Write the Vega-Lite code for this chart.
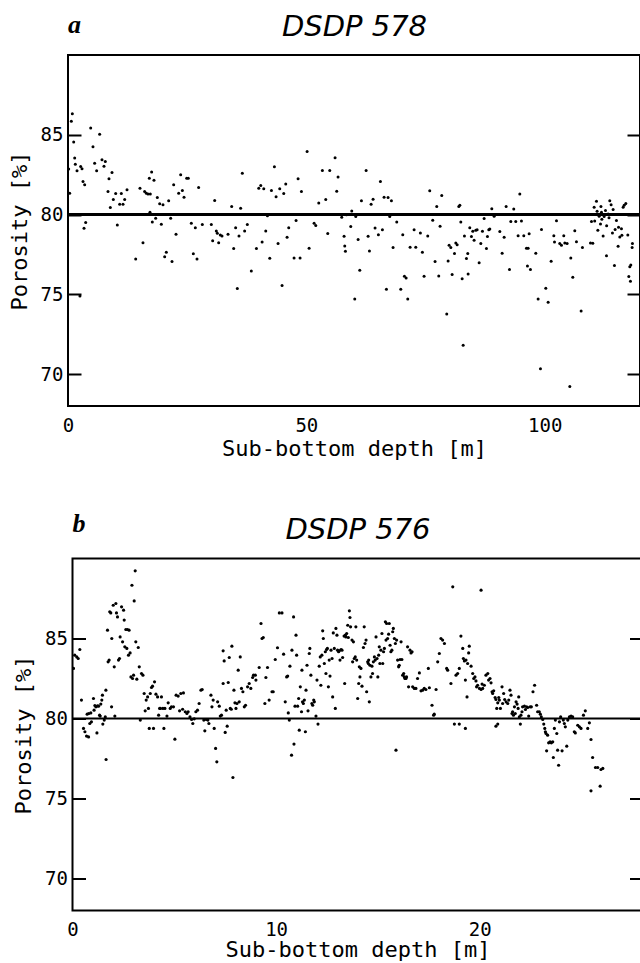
{
  "$schema": "https://vega.github.io/schema/vega-lite/v6.json",
  "background": "white",
  "padding": {"left": 7, "top": 11, "right": 0, "bottom": 0},
  "center": true,
  "spacing": 49.5,
  "config": {
    "view": {"stroke": "black", "strokeWidth": 2},
    "axis": {
      "grid": false, "domain": false, "zindex": 1, "tickColor": "black", "tickWidth": 2,
      "labelColor": "black", "labelFont": "DejaVu Sans Mono", "labelFontSize": 19,
      "titleColor": "black", "titleFont": "DejaVu Sans Mono", "titleFontSize": 22, "titleFontWeight": "normal",
      "labelFlush": false, "labelOverlap": false
    },
    "title": {"font": "Liberation Serif", "fontStyle": "italic", "fontWeight": "bold", "fontSize": 26, "color": "black", "anchor": "start", "frame": "group"}
  },
  "datasets": {
    "site578": [
      {"depth":0.91,"porosity":86.32},{"depth":0.70,"porosity":85.84},{"depth":1.19,"porosity":84.54},{"depth":0.14,"porosity":82.85},{"depth":1.40,"porosity":83.54},{"depth":1.54,"porosity":83.16},{"depth":1.89,"porosity":82.74},{"depth":0.35,"porosity":81.34},{"depth":2.66,"porosity":83.01},{"depth":2.94,"porosity":82.87},{"depth":3.15,"porosity":82.07},{"depth":3.50,"porosity":81.86},{"depth":3.36,"porosity":79.14},{"depth":3.71,"porosity":79.50},{"depth":2.5,"porosity":74.9},
      {"depth":4.76,"porosity":85.42},{"depth":5.24,"porosity":84.25},{"depth":5.59,"porosity":83.22},{"depth":6.01,"porosity":82.74},{"depth":6.64,"porosity":85.04},{"depth":7.13,"porosity":83.43},{"depth":7.83,"porosity":83.33},{"depth":7.55,"porosity":83.03},{"depth":8.60,"porosity":82.24},{"depth":8.39,"porosity":81.44},{"depth":9.23,"porosity":82.64},{"depth":8.88,"porosity":80.44},{"depth":9.51,"porosity":80.94},{"depth":10.0,"porosity":81.32},{"depth":10.84,"porosity":80.65},{"depth":11.19,"porosity":81.32},{"depth":11.54,"porosity":80.65},{"depth":11.89,"porosity":80.94},{"depth":12.38,"porosity":81.55},{"depth":10.35,"porosity":79.35},
      {"depth":14.20,"porosity":77.22},{"depth":15.10,"porosity":81.65},{"depth":15.73,"porosity":78.24},{"depth":16.08,"porosity":81.44},{"depth":16.43,"porosity":81.34},{"depth":16.78,"porosity":81.28},{"depth":17.06,"porosity":82.28},{"depth":17.55,"porosity":82.66},{"depth":17.27,"porosity":81.28},{"depth":18.04,"porosity":82.15},{"depth":17.20,"porosity":80.15},{"depth":17.69,"porosity":79.54},{"depth":18.39,"porosity":79.77},{"depth":18.74,"porosity":81.07},{"depth":19.23,"porosity":80.67},{"depth":19.58,"porosity":79.39},{"depth":19.93,"porosity":80.61},{"depth":20.28,"porosity":77.36},{"depth":20.63,"porosity":77.64},{"depth":21.12,"porosity":80.86},{"depth":21.54,"porosity":79.77},{"depth":21.82,"porosity":77.05},{"depth":22.17,"porosity":81.86},{"depth":22.66,"porosity":78.77},{"depth":23.22,"porosity":81.34},{"depth":23.64,"porosity":82.49},{"depth":23.99,"porosity":81.51},{"depth":24.34,"porosity":81.09},{"depth":24.90,"porosity":82.28},{"depth":25.24,"porosity":82.28},{"depth":25.87,"porosity":79.46},{"depth":26.29,"porosity":77.55},{"depth":26.71,"porosity":79.18},{"depth":27.06,"porosity":77.22},{"depth":27.41,"porosity":81.69},{"depth":28.18,"porosity":79.37},
      {"depth":30.07,"porosity":79.37},{"depth":30.35,"porosity":78.35},{"depth":30.77,"porosity":80.88},{"depth":31.12,"porosity":78.97},{"depth":31.33,"porosity":78.83},{"depth":31.61,"porosity":78.24},{"depth":31.96,"porosity":78.72},{"depth":32.31,"porosity":78.66},{"depth":33.57,"porosity":78.77},{"depth":34.34,"porosity":80.50},{"depth":34.76,"porosity":77.87},{"depth":35.17,"porosity":79.18},{"depth":35.52,"porosity":75.36},{"depth":35.87,"porosity":78.66},{"depth":36.22,"porosity":80.40},{"depth":36.57,"porosity":82.59},{"depth":37.06,"porosity":78.97},{"depth":37.62,"porosity":79.37},{"depth":38.46,"porosity":76.46},
      {"depth":39.53,"porosity":77.87},{"depth":40.02,"porosity":81.65},{"depth":40.44,"porosity":81.82},{"depth":41.07,"porosity":81.61},{"depth":40.72,"porosity":78.28},{"depth":41.49,"porosity":78.97},{"depth":41.84,"porosity":79.92},{"depth":42.33,"porosity":77.26},{"depth":42.68,"porosity":81.51},{"depth":43.30,"porosity":82.99},{"depth":43.65,"porosity":81.11},{"depth":44.07,"porosity":78.18},{"depth":44.42,"porosity":81.61},{"depth":44.91,"porosity":75.56},{"depth":45.26,"porosity":81.32},{"depth":45.68,"porosity":81.92},{"depth":45.96,"porosity":78.58},{"depth":46.31,"porosity":79.18},{"depth":47.43,"porosity":77.28},{"depth":47.85,"porosity":79.62},{"depth":48.27,"porosity":82.24},{"depth":48.69,"porosity":77.28},{"depth":48.97,"porosity":81.44},{"depth":50.16,"porosity":83.95},{"depth":50.58,"porosity":77.89},{"depth":51.63,"porosity":79.46},{"depth":51.98,"porosity":79.31},{"depth":52.61,"porosity":80.73},{"depth":53.37,"porosity":82.76},{"depth":54.07,"porosity":80.94},{"depth":54.49,"porosity":78.81},{"depth":54.91,"porosity":82.76},{"depth":56.03,"porosity":83.56},{"depth":56.38,"porosity":81.46},{"depth":56.66,"porosity":82.36},{"depth":57.43,"porosity":79.83},{"depth":57.92,"porosity":78.64},{"depth":58.06,"porosity":78.03},{"depth":58.20,"porosity":77.70},{"depth":58.41,"porosity":79.98},{"depth":59.32,"porosity":79.25},{"depth":59.53,"porosity":80.23},{"depth":60.16,"porosity":74.71},{"depth":60.37,"porosity":79.87},{"depth":60.86,"porosity":78.43},{"depth":61.21,"porosity":76.51},{"depth":61.56,"porosity":80.86},{"depth":62.54,"porosity":82.76},{"depth":62.96,"porosity":78.64},{"depth":63.24,"porosity":77.72},{"depth":63.59,"porosity":80.65},{"depth":64.00,"porosity":80.96},{"depth":64.42,"porosity":79.16},{"depth":65.12,"porosity":78.74},{"depth":65.54,"porosity":82.07},{"depth":65.96,"porosity":79.04},{"depth":66.31,"porosity":81.09},{"depth":66.80,"porosity":75.31},{"depth":67.15,"porosity":81.07},{"depth":67.50,"porosity":79.87},{"depth":67.85,"porosity":80.86},{"depth":68.20,"porosity":77.93},{"depth":68.97,"porosity":79.54},{"depth":69.81,"porosity":75.31},{"depth":70.23,"porosity":78.74},{"depth":70.58,"porosity":76.13},{"depth":70.93,"porosity":76.03},{"depth":71.28,"porosity":74.71},{"depth":71.77,"porosity":77.95},{"depth":72.61,"porosity":79.04},{"depth":72.96,"porosity":77.95},{"depth":73.93,"porosity":78.85},{"depth":74.35,"porosity":77.64},{"depth":74.70,"porosity":76.13},{"depth":75.47,"porosity":78.66},{"depth":75.89,"porosity":81.49},{"depth":76.52,"porosity":79.64},{"depth":77.01,"porosity":77.05},{"depth":77.36,"porosity":80.50},{"depth":77.78,"porosity":76.15},{"depth":78.06,"porosity":79.27},{"depth":78.41,"porosity":81.19},{"depth":79.46,"porosity":73.77},{"depth":79.74,"porosity":77.09},{"depth":79.95,"porosity":78.08},
      {"depth":80.31,"porosity":77.93},{"depth":80.59,"porosity":76.25},{"depth":81.08,"porosity":77.56},{"depth":81.36,"porosity":78.22},{"depth":81.64,"porosity":78.10},{"depth":81.99,"porosity":80.50},{"depth":82.20,"porosity":80.58},{"depth":82.41,"porosity":79.54},{"depth":82.69,"porosity":75.98},{"depth":82.90,"porosity":71.80},{"depth":83.17,"porosity":78.65},{"depth":83.59,"porosity":77.25},{"depth":83.87,"porosity":77.56},{"depth":83.94,"porosity":76.27},{"depth":84.29,"porosity":79.17},{"depth":84.64,"porosity":78.63},{"depth":84.92,"porosity":78.96},{"depth":85.20,"porosity":78.39},{"depth":85.55,"porosity":79.01},{"depth":85.83,"porosity":79.05},{"depth":86.25,"porosity":76.98},{"depth":86.60,"porosity":78.18},{"depth":86.95,"porosity":78.96},{"depth":87.30,"porosity":79.75},{"depth":87.79,"porosity":77.87},{"depth":88.00,"porosity":78.63},{"depth":88.28,"porosity":79.05},{"depth":88.49,"porosity":79.09},{"depth":88.91,"porosity":80.37},{"depth":89.40,"porosity":79.90},{"depth":90.59,"porosity":78.94},{"depth":91.08,"porosity":77.58},{"depth":91.50,"porosity":78.57},{"depth":91.92,"porosity":80.50},{"depth":92.34,"porosity":80.00},{"depth":92.62,"porosity":76.56},{"depth":92.90,"porosity":79.57},{"depth":93.52,"porosity":80.35},{"depth":93.94,"porosity":79.57},{"depth":94.43,"porosity":78.67},{"depth":94.78,"porosity":81.28},{"depth":95.13,"porosity":79.59},{"depth":95.62,"porosity":78.67},{"depth":96.18,"porosity":77.89},{"depth":96.53,"porosity":77.89},{"depth":96.74,"porosity":78.80},{"depth":96.39,"porosity":76.77},{"depth":97.02,"porosity":76.56},{"depth":98.14,"porosity":77.58},{"depth":98.63,"porosity":74.70},{"depth":99.12,"porosity":70.33},{"depth":99.33,"porosity":79.07},{"depth":100.24,"porosity":75.38},{"depth":100.73,"porosity":74.51},{"depth":101.36,"porosity":77.08},{"depth":101.92,"porosity":78.67},{"depth":102.06,"porosity":78.28},{"depth":102.48,"porosity":79.61},{"depth":103.17,"porosity":78.18},{"depth":103.52,"porosity":78.07},{"depth":104.01,"porosity":78.67},{"depth":104.22,"porosity":78.22},{"depth":104.71,"porosity":78.18},{"depth":105.48,"porosity":77.27},{"depth":105.90,"porosity":76.07},{"depth":106.32,"porosity":78.99},{"depth":106.67,"porosity":78.30},{"depth":107.65,"porosity":73.95},{"depth":107.93,"porosity":77.93},{"depth":105.27,"porosity":69.23},
      {"depth":109.61,"porosity":78.22},{"depth":110.10,"porosity":78.20},{"depth":109.82,"porosity":79.57},{"depth":110.38,"porosity":80.46},{"depth":110.87,"porosity":80.83},{"depth":111.15,"porosity":79.01},{"depth":111.43,"porosity":79.90},{"depth":111.71,"porosity":79.40},{"depth":111.92,"porosity":80.14},{"depth":112.13,"porosity":80.00},{"depth":112.27,"porosity":78.65},{"depth":112.48,"porosity":79.88},{"depth":112.76,"porosity":80.25},{"depth":112.97,"porosity":77.41},{"depth":113.31,"porosity":80.04},{"depth":113.66,"porosity":80.87},{"depth":113.94,"porosity":80.62},{"depth":114.22,"porosity":78.84},{"depth":114.36,"porosity":80.31},{"depth":114.64,"porosity":76.81},{"depth":114.78,"porosity":79.07},{"depth":115.06,"porosity":79.63},{"depth":115.41,"porosity":78.01},{"depth":115.76,"porosity":78.59},{"depth":116.11,"porosity":79.11},{"depth":116.46,"porosity":80.46},{"depth":116.67,"porosity":80.58},{"depth":117.02,"porosity":80.70},{"depth":117.44,"porosity":78.72},{"depth":117.86,"porosity":76.73},{"depth":118.07,"porosity":76.83},{"depth":118.35,"porosity":77.93},{"depth":118.42,"porosity":78.18},{"depth":117.65,"porosity":76.11},{"depth":118.00,"porosity":75.82},
      {"depth":111.0,"porosity":80.2},{"depth":112.0,"porosity":79.7},{"depth":113.0,"porosity":79.3},{"depth":115.5,"porosity":79.2},{"depth":116.2,"porosity":78.7},{"depth":110.5,"porosity":79.6},{"depth":111.8,"porosity":80.5},{"depth":113.5,"porosity":79.8}
    ],
    "site576": [
      {"depth":0.05,"porosity":83.13},{"depth":0.11,"porosity":83.96},{"depth":0.21,"porosity":83.85},{"depth":0.28,"porosity":83.75},{"depth":0.36,"porosity":84.31},{"depth":0.44,"porosity":81.15},{"depth":0.54,"porosity":79.38},{"depth":0.61,"porosity":79.17},{"depth":0.69,"porosity":78.90},{"depth":0.79,"porosity":78.85},{"depth":0.72,"porosity":80.27},{"depth":0.80,"porosity":80.31},{"depth":0.90,"porosity":80.35},{"depth":0.85,"porosity":79.69},{"depth":0.93,"porosity":79.79},{"depth":1.03,"porosity":81.25},{"depth":1.06,"porosity":80.52},{"depth":1.10,"porosity":80.81},{"depth":1.15,"porosity":80.73},{"depth":1.23,"porosity":80.79},{"depth":1.28,"porosity":80.77},{"depth":1.20,"porosity":79.10},{"depth":1.33,"porosity":80.21},{"depth":1.39,"porosity":80.90},{"depth":1.36,"porosity":80.15},{"depth":1.44,"porosity":81.15},{"depth":1.47,"porosity":81.46},{"depth":1.49,"porosity":79.65},{"depth":1.56,"porosity":79.90},{"depth":1.61,"porosity":80.10},{"depth":1.64,"porosity":81.77},{"depth":1.65,"porosity":77.44},
      {"depth":1.72,"porosity":85.52},{"depth":1.75,"porosity":83.54},{"depth":1.80,"porosity":83.65},{"depth":1.83,"porosity":86.67},{"depth":1.88,"porosity":86.60},{"depth":1.92,"porosity":80.73},{"depth":1.93,"porosity":85.00},{"depth":2.00,"porosity":87.08},{"depth":2.05,"porosity":83.23},{"depth":2.08,"porosity":80.15},{"depth":2.13,"porosity":87.19},{"depth":2.16,"porosity":86.60},{"depth":2.21,"porosity":86.35},{"depth":2.26,"porosity":83.65},{"depth":2.31,"porosity":83.75},{"depth":2.34,"porosity":85.10},{"depth":2.41,"porosity":86.98},{"depth":2.46,"porosity":84.79},{"depth":2.51,"porosity":86.77},{"depth":2.54,"porosity":86.15},{"depth":2.57,"porosity":84.48},{"depth":2.62,"porosity":85.56},{"depth":2.67,"porosity":84.38},{"depth":2.70,"porosity":85.56},{"depth":2.75,"porosity":83.96},{"depth":2.78,"porosity":85.52},{"depth":2.83,"porosity":84.10},{"depth":2.87,"porosity":82.60},{"depth":2.92,"porosity":88.33},{"depth":2.95,"porosity":82.50},{"depth":3.00,"porosity":82.71},{"depth":3.03,"porosity":87.35},{"depth":3.08,"porosity":89.23},{"depth":3.11,"porosity":84.79},{"depth":3.16,"porosity":82.46},{"depth":3.23,"porosity":84.44},{"depth":3.28,"porosity":83.23},{"depth":3.33,"porosity":79.90},{"depth":3.39,"porosity":82.81},{"depth":3.46,"porosity":82.71},{"depth":3.52,"porosity":81.56},{"depth":3.57,"porosity":80.48},{"depth":3.62,"porosity":81.15},{"depth":3.69,"porosity":81.35},{"depth":3.73,"porosity":80.63},{"depth":3.77,"porosity":79.38},{"depth":3.82,"porosity":81.56},{"depth":3.88,"porosity":81.94},{"depth":3.93,"porosity":82.02},{"depth":3.98,"porosity":79.38},
      {"depth":4.03,"porosity":82.29},{"depth":4.10,"porosity":81.52},{"depth":4.18,"porosity":81.35},{"depth":4.23,"porosity":80.21},{"depth":4.28,"porosity":80.63},{"depth":4.32,"porosity":80.63},{"depth":4.37,"porosity":81.35},{"depth":4.44,"porosity":80.63},{"depth":4.49,"porosity":79.38},{"depth":4.54,"porosity":80.63},{"depth":4.64,"porosity":80.15},{"depth":4.70,"porosity":80.98},{"depth":4.80,"porosity":80.63},{"depth":4.86,"porosity":80.73},{"depth":4.96,"porosity":80.73},{"depth":5.03,"porosity":78.71},{"depth":5.09,"porosity":81.46},{"depth":5.19,"porosity":81.40},{"depth":5.26,"porosity":80.48},{"depth":5.32,"porosity":81.56},{"depth":5.41,"porosity":80.58},{"depth":5.45,"porosity":81.60},{"depth":5.54,"porosity":80.42},{"depth":5.62,"porosity":80.31},{"depth":5.68,"porosity":80.42},{"depth":5.77,"porosity":80.10},{"depth":5.85,"porosity":79.94},{"depth":5.91,"porosity":79.69},{"depth":5.98,"porosity":79.98},{"depth":6.06,"porosity":80.42},{"depth":6.14,"porosity":80.52},{"depth":6.22,"porosity":80.94},{"depth":6.31,"porosity":81.77},{"depth":6.37,"porosity":81.81},{"depth":6.45,"porosity":79.90},{"depth":6.50,"porosity":79.23},{"depth":6.57,"porosity":79.94},{"depth":6.65,"porosity":79.90},{"depth":6.70,"porosity":79.69},{"depth":6.80,"porosity":81.46},{"depth":6.85,"porosity":80.73},{"depth":6.91,"porosity":81.15},{"depth":6.96,"porosity":79.38},{"depth":7.03,"porosity":78.13},{"depth":7.09,"porosity":77.29},{"depth":7.13,"porosity":81.04},{"depth":7.21,"porosity":80.77},{"depth":7.26,"porosity":80.15},{"depth":7.32,"porosity":80.21},{"depth":7.40,"porosity":82.19},{"depth":7.40,"porosity":84.23},{"depth":7.45,"porosity":83.60},{"depth":7.50,"porosity":79.13},{"depth":7.55,"porosity":80.52},{"depth":7.60,"porosity":79.52},{"depth":7.65,"porosity":82.25},{"depth":7.70,"porosity":83.81},{"depth":7.75,"porosity":80.63},{"depth":7.80,"porosity":80.58},{"depth":7.83,"porosity":84.52},{"depth":7.88,"porosity":76.31},{"depth":7.93,"porosity":81.77},{"depth":7.98,"porosity":80.98},{"depth":8.03,"porosity":80.63},{"depth":8.08,"porosity":80.94},{"depth":8.14,"porosity":83.02},{"depth":8.19,"porosity":81.04},{"depth":8.24,"porosity":83.85},{"depth":8.30,"porosity":81.88},{"depth":8.37,"porosity":81.67},{"depth":8.44,"porosity":80.73},{"depth":8.50,"porosity":80.83},{"depth":8.60,"porosity":81.98},{"depth":8.68,"porosity":82.19},{"depth":8.76,"porosity":81.88},{"depth":8.85,"porosity":82.56},{"depth":8.89,"porosity":82.71},
      {"depth":8.98,"porosity":82.71},{"depth":9.01,"porosity":82.40},{"depth":9.17,"porosity":83.19},{"depth":9.26,"porosity":85.94},{"depth":9.31,"porosity":85.00},{"depth":9.37,"porosity":85.06},{"depth":9.45,"porosity":80.94},{"depth":9.50,"porosity":82.56},{"depth":9.58,"porosity":83.19},{"depth":9.66,"porosity":81.15},{"depth":9.80,"porosity":81.67},{"depth":9.86,"porosity":81.67},{"depth":9.96,"porosity":83.69},{"depth":10.07,"porosity":84.42},{"depth":10.16,"porosity":86.60},{"depth":10.29,"porosity":86.60},{"depth":10.37,"porosity":84.02},{"depth":10.45,"porosity":81.04},{"depth":10.52,"porosity":82.60},{"depth":10.57,"porosity":82.65},{"depth":10.60,"porosity":80.35},{"depth":10.65,"porosity":79.90},{"depth":10.68,"porosity":83.27},{"depth":10.76,"porosity":77.71},{"depth":10.78,"porosity":84.27},{"depth":10.86,"porosity":86.35},{"depth":10.88,"porosity":78.40},{"depth":10.98,"porosity":85.21},{"depth":11.01,"porosity":83.96},{"depth":10.93,"porosity":80.77},{"depth":11.06,"porosity":80.77},{"depth":11.11,"porosity":81.25},{"depth":11.14,"porosity":79.27},{"depth":11.19,"porosity":81.98},{"depth":11.25,"porosity":80.42},{"depth":11.27,"porosity":83.02},{"depth":11.30,"porosity":81.04},{"depth":11.39,"porosity":81.15},{"depth":11.34,"porosity":80.94},{"depth":11.44,"porosity":79.17},{"depth":11.47,"porosity":81.77},{"depth":11.52,"porosity":83.33},{"depth":11.57,"porosity":80.48},{"depth":11.63,"porosity":84.06},{"depth":11.66,"porosity":84.38},{"depth":11.71,"porosity":82.71},{"depth":11.76,"porosity":80.94},{"depth":11.80,"porosity":80.83},{"depth":11.85,"porosity":81.15},{"depth":11.88,"porosity":81.04},{"depth":11.96,"porosity":80.15},{"depth":12.01,"porosity":82.40},{"depth":12.06,"porosity":79.65},{"depth":12.12,"porosity":83.27},{"depth":12.17,"porosity":83.85},{"depth":12.20,"porosity":82.08},{"depth":12.25,"porosity":83.96},{"depth":12.29,"porosity":85.48},{"depth":12.32,"porosity":85.00},{"depth":12.37,"porosity":83.44},{"depth":12.42,"porosity":84.17},{"depth":12.45,"porosity":82.81},{"depth":12.48,"porosity":84.31},{"depth":12.52,"porosity":84.38},{"depth":12.57,"porosity":81.98},{"depth":12.61,"porosity":83.65},{"depth":12.65,"porosity":82.65},{"depth":12.70,"porosity":84.27},{"depth":12.75,"porosity":83.75},{"depth":12.78,"porosity":81.35},{"depth":12.81,"porosity":85.35},{"depth":12.86,"porosity":84.38},{"depth":12.91,"porosity":80.63},{"depth":12.94,"porosity":85.63},{"depth":12.99,"porosity":85.21},{"depth":13.02,"porosity":84.27},{"depth":13.07,"porosity":84.17},{"depth":13.11,"porosity":84.23},{"depth":13.14,"porosity":83.65},{"depth":13.19,"porosity":84.31},{"depth":13.24,"porosity":84.27},{"depth":13.27,"porosity":83.81},{"depth":13.34,"porosity":85.15},{"depth":13.37,"porosity":82.19},{"depth":13.40,"porosity":85.21},{"depth":13.43,"porosity":85.10},{"depth":13.47,"porosity":85.31},{"depth":13.52,"porosity":85.83},{"depth":13.55,"porosity":85.06},{"depth":13.60,"porosity":86.73},{"depth":13.63,"porosity":86.31},{"depth":13.66,"porosity":85.73},{"depth":13.73,"porosity":84.90},{"depth":13.76,"porosity":83.54},{"depth":13.80,"porosity":84.79},{"depth":13.84,"porosity":83.75},{"depth":13.89,"porosity":83.85},{"depth":13.92,"porosity":85.73},{"depth":13.96,"porosity":83.65},{"depth":14.01,"porosity":81.25},{"depth":14.06,"porosity":82.19},{"depth":14.09,"porosity":83.23},{"depth":14.12,"porosity":82.60},{"depth":14.17,"porosity":83.13},{"depth":14.22,"porosity":82.02},{"depth":14.29,"porosity":84.44},{"depth":14.33,"porosity":85.73},{"depth":14.37,"porosity":84.69},{"depth":14.42,"porosity":84.90},{"depth":14.45,"porosity":81.67},{"depth":14.50,"porosity":83.54},{"depth":14.53,"porosity":83.44},{"depth":14.58,"porosity":81.04},{"depth":14.55,"porosity":83.65},{"depth":14.61,"porosity":83.33},{"depth":14.66,"porosity":82.60},{"depth":14.71,"porosity":83.27},{"depth":14.74,"porosity":82.81},{"depth":14.78,"porosity":83.54},{"depth":14.83,"porosity":83.85},{"depth":14.87,"porosity":83.65},{"depth":14.91,"porosity":85.10},{"depth":14.96,"porosity":83.75},{"depth":15.00,"porosity":82.60},{"depth":15.04,"porosity":83.96},{"depth":15.07,"porosity":84.48},{"depth":15.10,"porosity":83.44},{"depth":15.15,"porosity":84.27},{"depth":15.20,"porosity":85.31},{"depth":15.24,"porosity":83.44},{"depth":15.28,"porosity":84.17},{"depth":15.32,"porosity":84.38},{"depth":15.37,"porosity":86.04},{"depth":15.40,"porosity":84.90},{"depth":15.43,"porosity":85.94},{"depth":15.48,"porosity":85.00},{"depth":15.53,"porosity":85.27},{"depth":15.56,"porosity":85.94},{"depth":15.60,"porosity":84.58},{"depth":15.64,"porosity":84.17},{"depth":15.69,"porosity":84.27},{"depth":15.73,"porosity":85.42},{"depth":15.76,"porosity":85.63},{"depth":15.81,"porosity":85.00},{"depth":15.86,"porosity":84.69},{"depth":15.89,"porosity":78.02},{"depth":15.92,"porosity":84.90},{"depth":15.97,"porosity":83.65},{"depth":16.02,"porosity":83.23},{"depth":16.05,"porosity":83.33},{"depth":16.09,"porosity":83.69},{"depth":16.14,"porosity":84.79},{"depth":16.18,"porosity":83.69},{"depth":16.22,"porosity":82.71},{"depth":16.27,"porosity":82.81},{"depth":16.30,"porosity":82.60},{"depth":16.33,"porosity":82.50},{"depth":16.38,"porosity":82.50},{"depth":16.41,"porosity":82.60},{"depth":16.46,"porosity":84.48},{"depth":16.51,"porosity":81.98},{"depth":16.58,"porosity":84.27},{"depth":16.63,"porosity":84.10},{"depth":16.68,"porosity":84.17},{"depth":16.71,"porosity":81.98},{"depth":16.79,"porosity":81.88},{"depth":16.87,"porosity":81.88},{"depth":16.95,"porosity":82.50},{"depth":17.04,"porosity":82.85},{"depth":17.12,"porosity":81.73},{"depth":17.20,"porosity":81.77},{"depth":17.28,"porosity":81.88},{"depth":17.36,"porosity":81.81},{"depth":17.48,"porosity":83.13},{"depth":17.53,"porosity":81.92},{"depth":17.66,"porosity":80.83},{"depth":17.74,"porosity":80.21},{"depth":17.77,"porosity":80.27},{"depth":17.86,"porosity":81.81},{"depth":17.94,"porosity":83.54},{"depth":18.02,"porosity":84.06},{"depth":18.10,"porosity":85.00},{"depth":18.18,"porosity":84.90},{"depth":18.27,"porosity":84.69},{"depth":18.38,"porosity":83.13},{"depth":18.43,"porosity":83.02},
      {"depth":18.68,"porosity":88.23},{"depth":20.07,"porosity":88.02},{"depth":19.08,"porosity":85.15},{"depth":19.17,"porosity":84.38},{"depth":19.49,"porosity":84.52},{"depth":19.46,"porosity":84.10},{"depth":19.20,"porosity":83.75},{"depth":19.25,"porosity":83.60},{"depth":19.33,"porosity":83.65},{"depth":19.41,"porosity":83.44},{"depth":19.58,"porosity":83.27},{"depth":19.00,"porosity":83.13},{"depth":18.92,"porosity":82.81},{"depth":18.84,"porosity":82.71},{"depth":18.59,"porosity":82.19},{"depth":19.30,"porosity":82.40},{"depth":19.38,"porosity":81.35},{"depth":19.66,"porosity":82.81},{"depth":19.71,"porosity":82.50},{"depth":19.77,"porosity":82.60},{"depth":19.82,"porosity":82.35},{"depth":19.90,"porosity":82.08},{"depth":19.85,"porosity":81.98},{"depth":19.99,"porosity":81.88},{"depth":20.07,"porosity":81.81},{"depth":20.12,"porosity":82.15},{"depth":20.15,"porosity":81.88},{"depth":20.23,"porosity":82.08},{"depth":20.31,"porosity":82.71},{"depth":20.40,"porosity":82.81},{"depth":20.44,"porosity":82.40},{"depth":20.51,"porosity":82.50},{"depth":20.56,"porosity":82.23},{"depth":20.61,"porosity":81.67},{"depth":20.64,"porosity":81.56},{"depth":20.69,"porosity":81.73},{"depth":20.76,"porosity":81.31},{"depth":20.80,"porosity":81.19},{"depth":20.84,"porosity":80.63},{"depth":20.89,"porosity":80.98},{"depth":20.94,"porosity":81.31},{"depth":20.97,"porosity":81.15},{"depth":21.02,"porosity":80.63},{"depth":21.10,"porosity":81.98},{"depth":21.13,"porosity":80.94},{"depth":21.18,"porosity":81.56},{"depth":21.23,"porosity":81.19},{"depth":21.30,"porosity":81.04},{"depth":21.38,"porosity":80.94},{"depth":21.43,"porosity":81.15},{"depth":21.49,"porosity":81.77},{"depth":21.54,"porosity":81.46},{"depth":21.59,"porosity":80.31},{"depth":21.62,"porosity":80.42},{"depth":21.66,"porosity":80.21},{"depth":21.71,"porosity":80.73},{"depth":21.75,"porosity":80.31},{"depth":21.79,"porosity":81.04},{"depth":21.84,"porosity":80.90},{"depth":21.89,"porosity":80.63},{"depth":21.92,"porosity":81.35},{"depth":21.95,"porosity":80.10},{"depth":22.00,"porosity":79.65},{"depth":22.03,"porosity":80.21},{"depth":22.08,"porosity":80.42},{"depth":22.11,"porosity":80.73},{"depth":22.20,"porosity":80.77},{"depth":22.25,"porosity":80.56},{"depth":22.31,"porosity":80.73},{"depth":22.36,"porosity":80.69},{"depth":22.41,"porosity":80.15},{"depth":22.48,"porosity":80.73},{"depth":22.54,"porosity":80.73},{"depth":22.62,"porosity":81.67},{"depth":22.70,"porosity":82.08},{"depth":22.80,"porosity":80.83},{"depth":22.85,"porosity":80.42},{"depth":22.93,"porosity":80.42},{"depth":22.98,"porosity":80.27},{"depth":23.03,"porosity":80.10},{"depth":23.10,"porosity":79.94},{"depth":23.15,"porosity":79.65},{"depth":23.20,"porosity":79.38},{"depth":23.23,"porosity":79.17},{"depth":23.26,"porosity":79.06},{"depth":23.29,"porosity":77.98},{"depth":23.34,"porosity":78.96},{"depth":23.39,"porosity":78.48},{"depth":23.46,"porosity":78.54},{"depth":23.52,"porosity":78.48},{"depth":23.59,"porosity":78.54},{"depth":23.62,"porosity":77.56},{"depth":23.67,"porosity":79.38},{"depth":23.72,"porosity":79.90},{"depth":23.79,"porosity":79.06},{"depth":23.83,"porosity":78.02},{"depth":23.88,"porosity":77.08},{"depth":23.92,"porosity":79.79},{"depth":23.98,"porosity":80.10},{"depth":24.05,"porosity":77.98},{"depth":24.11,"porosity":79.90},{"depth":24.16,"porosity":79.69},{"depth":24.21,"porosity":79.48},{"depth":24.28,"porosity":78.27},{"depth":24.33,"porosity":79.90},{"depth":24.41,"porosity":80.10},{"depth":24.49,"porosity":80.15},{"depth":24.57,"porosity":80.10},{"depth":24.65,"porosity":79.17},{"depth":24.70,"porosity":79.10},{"depth":24.82,"porosity":79.58},{"depth":24.90,"porosity":79.48},{"depth":24.98,"porosity":79.38},{"depth":25.10,"porosity":80.21},{"depth":25.19,"porosity":80.48},{"depth":25.31,"porosity":79.38},{"depth":25.39,"porosity":79.73},{"depth":25.47,"porosity":78.69},{"depth":25.55,"porosity":77.56},{"depth":25.69,"porosity":76.94},{"depth":25.80,"porosity":76.94},{"depth":25.96,"porosity":76.81},{"depth":26.05,"porosity":76.88},{"depth":25.47,"porosity":75.48},{"depth":25.92,"porosity":75.77},{"depth":18.76,"porosity":79.65},{"depth":19.00,"porosity":79.65},{"depth":19.30,"porosity":79.38},{"depth":20.80,"porosity":79.52},{"depth":20.89,"porosity":79.65}
    ],
    "ref578": [{"depth": 0, "porosity": 80}, {"depth": 120, "porosity": 80}],
    "ref576": [{"depth": 0, "porosity": 80}, {"depth": 28, "porosity": 80}]
  },
  "vconcat": [
    {
      "width": 572,
      "height": 351,
      "title": {"text": "a", "offset": -26},
      "layer": [
        {
          "data": {"name": "site578"},
          "mark": {"type": "circle", "size": 9, "color": "black", "opacity": 1, "clip": true},
          "encoding": {
            "x": {"field": "depth", "type": "quantitative",
              "scale": {"domain": [0, 120], "nice": false, "zero": false},
              "axis": {"orient": "bottom", "values": [0, 50, 100], "tickSize": 0, "tickOpacity": 0,
                "labelPadding": 10, "title": "Sub-bottom depth [m]", "titlePadding": 3}},
            "y": {"field": "porosity", "type": "quantitative",
              "scale": {"domain": [68, 90], "nice": false, "zero": false},
              "axis": {"orient": "left", "values": [70, 75, 80, 85], "tickSize": -13, "labelPadding": 18,
                "title": "Porosity [%]", "titlePadding": 9}}
          }
        },
        {
          "data": {"name": "ref578"},
          "mark": {"type": "line", "color": "black", "strokeWidth": 3, "clip": true},
          "encoding": {
            "x": {"field": "depth", "type": "quantitative",
              "axis": {"orient": "top", "values": [0, 50, 100], "tickSize": 0, "tickOpacity": 0,
                "labels": false, "title": "DSDP 578", "titleFont": "DejaVu Sans", "titleFontStyle": "italic",
                "titleFontSize": 29, "titlePadding": 14}},
            "y": {"field": "porosity", "type": "quantitative",
              "axis": {"orient": "right", "values": [70, 75, 80, 85], "tickSize": -13, "labels": false, "title": null}}
          }
        },
        {
          "data": {"name": "ref578"},
          "mark": {"type": "line", "opacity": 0, "clip": true},
          "encoding": {
            "x": {"field": "depth", "type": "quantitative", "axis": null},
            "y": {"field": "porosity", "type": "quantitative",
              "axis": {"orient": "right", "values": [80], "tickSize": 8, "tickOpacity": 0, "labels": false, "title": null}}
          }
        }
      ],
      "resolve": {"axis": {"x": "independent", "y": "independent"}}
    },
    {
      "width": 570,
      "height": 352,
      "title": {"text": "b", "offset": -21},
      "layer": [
        {
          "data": {"name": "site576"},
          "mark": {"type": "circle", "size": 10, "color": "black", "opacity": 1, "clip": true},
          "encoding": {
            "x": {"field": "depth", "type": "quantitative",
              "scale": {"domain": [0, 28], "nice": false, "zero": false},
              "axis": {"orient": "bottom", "values": [0, 10, 20], "tickSize": 0, "tickOpacity": 0,
                "labelPadding": 10, "title": "Sub-bottom depth [m]", "titlePadding": 0}},
            "y": {"field": "porosity", "type": "quantitative",
              "scale": {"domain": [68, 90], "nice": false, "zero": false},
              "axis": {"orient": "left", "values": [70, 75, 80, 85], "tickSize": -13, "labelPadding": 18,
                "title": "Porosity [%]", "titlePadding": 9}}
          }
        },
        {
          "data": {"name": "ref576"},
          "mark": {"type": "line", "color": "black", "strokeWidth": 2, "clip": true},
          "encoding": {
            "x": {"field": "depth", "type": "quantitative",
              "axis": {"orient": "top", "values": [0, 10, 20], "tickSize": 0, "tickOpacity": 0,
                "labels": false, "title": "DSDP 576", "titleFont": "DejaVu Sans", "titleFontStyle": "italic",
                "titleFontSize": 29, "titlePadding": 14}},
            "y": {"field": "porosity", "type": "quantitative",
              "axis": {"orient": "right", "values": [70, 75, 80, 85], "tickSize": -13, "labels": false, "title": null}}
          }
        }
      ],
      "resolve": {"axis": {"x": "independent", "y": "independent"}}
    }
  ]
}
